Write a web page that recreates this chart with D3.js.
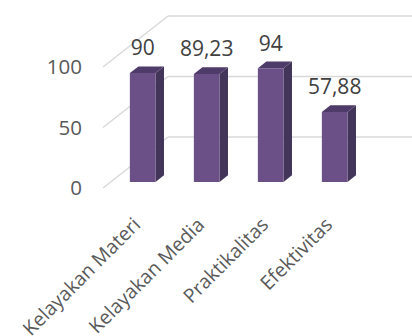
<!DOCTYPE html>
<html>
<head>
<meta charset="utf-8">
<script src="https://cdn.jsdelivr.net/npm/d3@7"></script>
<style>
  html, body { margin: 0; padding: 0; background: #fff; }
  svg { display: block; }
  text { font-family: "Open Sans", "Noto Sans", sans-serif; fill: #404040; }
</style>
</head>
<body>
<svg id="chart" width="412" height="336"></svg>
<script>
// ---- data ----
const categories = ["Kelayakan Materi", "Kelayakan Media", "Praktikalitas", "Efektivitas"];
const values = [90, 89.23, 94, 57.88];
const valueLabels = ["90", "89,23", "94", "57,88"];
const yTicks = [0, 50, 100];

// ---- layout ----
const W = 412, H = 336;
const svg = d3.select("#chart");

// front-plane scales
const x = d3.scaleBand().domain(categories).range([103, 359]).padding(0);
const y = d3.scaleLinear().domain([0, 100]).range([188, 67]);

// depth projection (d in 0..1: front to back wall)
const depthDX = 65, depthDY = -51;
const P = (px, py, d) => [px + depthDX * d, py + depthDY * d];

// ---- gridlines (floor diagonal + back wall) ----
const grid = svg.append("g");
yTicks.forEach(t => {
  const f = [x.range()[0], y(t)];
  const b = P(f[0], f[1], 1);
  grid.append("line")
    .attr("x1", f[0]).attr("y1", f[1]).attr("x2", b[0]).attr("y2", b[1])
    .attr("stroke", "#d9d9d9").attr("stroke-width", 1.5);
  grid.append("line")
    .attr("x1", b[0]).attr("y1", b[1]).attr("x2", W + 5).attr("y2", b[1])
    .attr("stroke", "#d9d9d9").attr("stroke-width", 1.5);
});

// ---- y axis labels ----
svg.append("g").selectAll("text").data(yTicks).join("text")
  .attr("x", 82).attr("y", d => y(d))
  .attr("dy", "0.36em")
  .attr("text-anchor", "end")
  .style("font-size", "20.5px")
  .style("fill", "#595959")
  .text(d => d);

// ---- bars ----
const d0 = 0.118, d1 = 0.249;
const barFrac = 0.4;
const bars = svg.append("g");
categories.forEach((c, i) => {
  const cx = x(c) + x.bandwidth() / 2;
  const bw = x.bandwidth() * barFrac;
  const xl = cx - bw / 2, xr = cx + bw / 2;
  const yb = y(0), yt = y(values[i]);
  const fl_t = P(xl, yt, d0), fr_t = P(xr, yt, d0), fr_b = P(xr, yb, d0), fl_b = P(xl, yb, d0);
  const bl_t = P(xl, yt, d1), br_t = P(xr, yt, d1), br_b = P(xr, yb, d1);
  // side
  bars.append("path")
    .attr("d", d3.line()([fr_t, br_t, br_b, fr_b]) + "Z")
    .attr("fill", "#43355a");
  // top
  bars.append("path")
    .attr("d", d3.line()([fl_t, bl_t, br_t, fr_t]) + "Z")
    .attr("fill", "#4f3b69");
  // front
  bars.append("path")
    .attr("d", d3.line()([fl_t, fr_t, fr_b, fl_b]) + "Z")
    .attr("fill", "#6a5087");
  // value label
  const tx = (fl_t[0] + fr_t[0]) / 2;
  svg.append("text")
    .attr("x", tx).attr("y", bl_t[1] - 11)
    .attr("text-anchor", "middle")
    .style("font-size", "21px")
    .style("fill", "#404040")
    .text(valueLabels[i]);
  // category label
  const lp = P(cx, y(0), d0);
  svg.append("text")
    .attr("transform", `translate(${lp[0] - 1},226) rotate(-45)`)
    .attr("text-anchor", "end")
    .style("font-size", "19.5px")
    .style("fill", "#595959")
    .text(c);
});
</script>
</body>
</html>
